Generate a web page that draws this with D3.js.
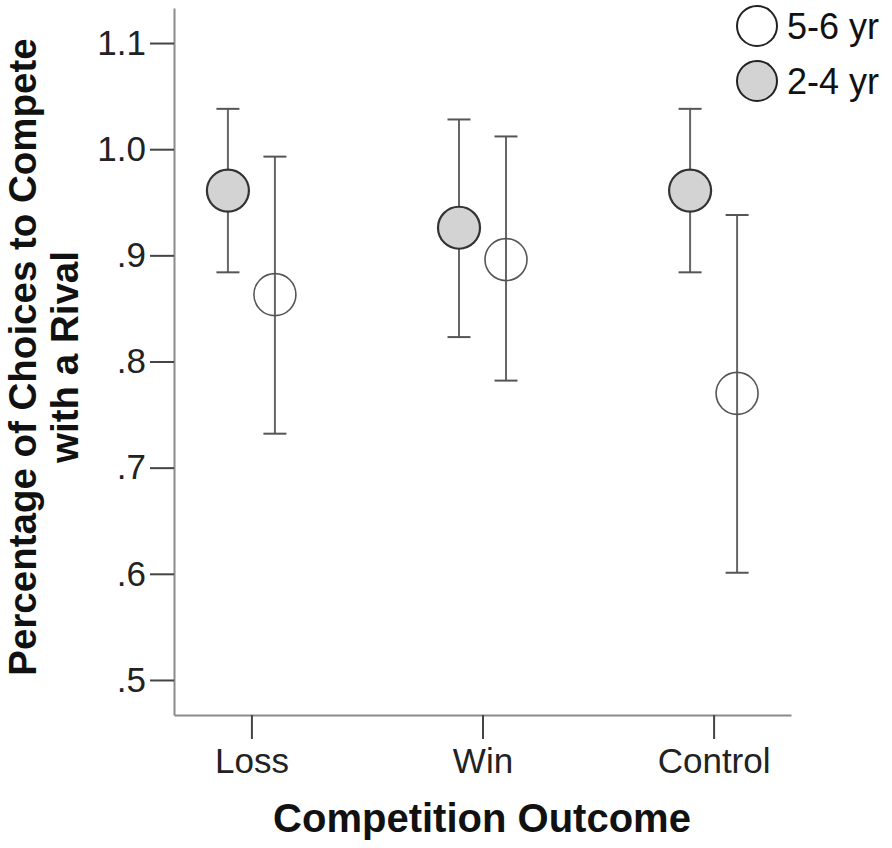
<!DOCTYPE html>
<html>
<head>
<meta charset="utf-8">
<script src="https://cdn.jsdelivr.net/npm/d3@7"></script>
<style>
  body { margin: 0; background: #fff; }
  svg { display: block; }
</style>
</head>
<body>
<div id="chart"></div>
<script>
const categories = ["Loss", "Win", "Control"]
const groups = ["2-4 yr", "5-6 yr"]

// 2-4 yr (grey) means and error bar ends
const mean24 = [0.961, 0.926, 0.961]
const low24 = [0.884, 0.823, 0.884]
const high24 = [1.038, 1.028, 1.038]

// 5-6 yr (white)
const mean56 = [0.863, 0.896, 0.770]
const low56 = [0.732, 0.782, 0.601]
const high56 = [0.993, 1.012, 0.938]

const yTicks = [0.5, 0.6, 0.7, 0.8, 0.9, 1.0, 1.1]
const legendLabels = ["5-6 yr", "2-4 yr"]

const width = 892
const height = 848
const font = "'Liberation Sans', Arial, sans-serif"

const series = [
  { group: "2-4 yr", mean: mean24, low: low24, high: high24, fill: "#d3d3d3", stroke: "#333", sw: 2.2 },
  { group: "5-6 yr", mean: mean56, low: low56, high: high56, fill: "none", stroke: "#555", sw: 1.6 }
]

const x = d3.scalePoint().domain(categories).range([174, 791]).padding(0.335)
const offset = d3.scalePoint().domain(groups).range([-23.5, 23.5])
const y = d3.scaleLinear().domain([0.467, 1.133]).range([715, 8])

const fmt = v => v >= 1 ? d3.format(".1f")(v) : d3.format(".1f")(v).replace(/^0/, "")

const svg = d3.select("#chart").append("svg")
  .attr("width", width)
  .attr("height", height)
  .attr("font-family", font)

// y axis
const gy = svg.append("g")
  .attr("transform", "translate(174,0)")
  .call(d3.axisLeft(y).tickValues(yTicks).tickFormat(fmt).tickSize(24).tickSizeOuter(0).tickPadding(4))
gy.select(".domain").attr("stroke", "#8a8a8a").attr("stroke-width", 2)
gy.selectAll(".tick line").attr("stroke", "#444").attr("stroke-width", 2)
gy.selectAll(".tick text").attr("font-size", 35).attr("fill", "#222").attr("font-family", font)

// x axis
const gx = svg.append("g")
  .attr("transform", "translate(0,715)")
  .call(d3.axisBottom(x).tickSize(24).tickSizeOuter(0).tickPadding(9))
gx.select(".domain").attr("stroke", "#8a8a8a").attr("stroke-width", 2)
gx.selectAll(".tick line").attr("stroke", "#444").attr("stroke-width", 2)
gx.selectAll(".tick text").attr("font-size", 35).attr("fill", "#222").attr("font-family", font)

// axis titles
svg.append("text")
  .attr("x", 482)
  .attr("y", 832)
  .attr("text-anchor", "middle")
  .attr("font-size", 40)
  .attr("font-weight", "bold")
  .attr("fill", "#111")
  .text("Competition Outcome")

const yTitle = ["Percentage of Choices to Compete", "with a Rival"]
yTitle.forEach((t, i) => {
  svg.append("text")
    .attr("transform", `translate(${36 + i * 42},357) rotate(-90)`)
    .attr("text-anchor", "middle")
    .attr("font-size", 38.5)
    .attr("font-weight", "bold")
    .attr("fill", "#111")
    .text(t)
})

// error bars + points
const capHalf = 11.5
series.forEach(s => {
  const g = svg.append("g")
  const rows = categories.map((c, i) => ({ c, mean: s.mean[i], low: s.low[i], high: s.high[i] }))
  const cx = d => x(d.c) + offset(s.group)

  g.selectAll("line.bar").data(rows).join("line")
    .attr("x1", cx).attr("x2", cx)
    .attr("y1", d => y(d.low)).attr("y2", d => y(d.high))
    .attr("stroke", "#666").attr("stroke-width", 2)
  g.selectAll("line.capHi").data(rows).join("line")
    .attr("x1", d => cx(d) - capHalf).attr("x2", d => cx(d) + capHalf)
    .attr("y1", d => y(d.high)).attr("y2", d => y(d.high))
    .attr("stroke", "#555").attr("stroke-width", 2)
  g.selectAll("line.capLo").data(rows).join("line")
    .attr("x1", d => cx(d) - capHalf).attr("x2", d => cx(d) + capHalf)
    .attr("y1", d => y(d.low)).attr("y2", d => y(d.low))
    .attr("stroke", "#555").attr("stroke-width", 2)
  g.selectAll("circle").data(rows).join("circle")
    .attr("cx", cx)
    .attr("cy", d => y(d.mean))
    .attr("r", 21)
    .attr("fill", s.fill)
    .attr("stroke", s.stroke)
    .attr("stroke-width", s.sw)
})

// legend
const legend = svg.append("g")
legendLabels.forEach((lab, i) => {
  const s = series.find(d => d.group === lab)
  legend.append("circle")
    .attr("cx", 757)
    .attr("cy", 26 + i * 55)
    .attr("r", 20)
    .attr("fill", s.fill === "none" ? "#fff" : s.fill)
    .attr("stroke", "#222")
    .attr("stroke-width", 2)
  legend.append("text")
    .attr("x", 787)
    .attr("y", 26 + i * 55)
    .attr("dy", "0.35em")
    .attr("font-size", 36)
    .attr("fill", "#111")
    .text(lab)
})
</script>
</body>
</html>
